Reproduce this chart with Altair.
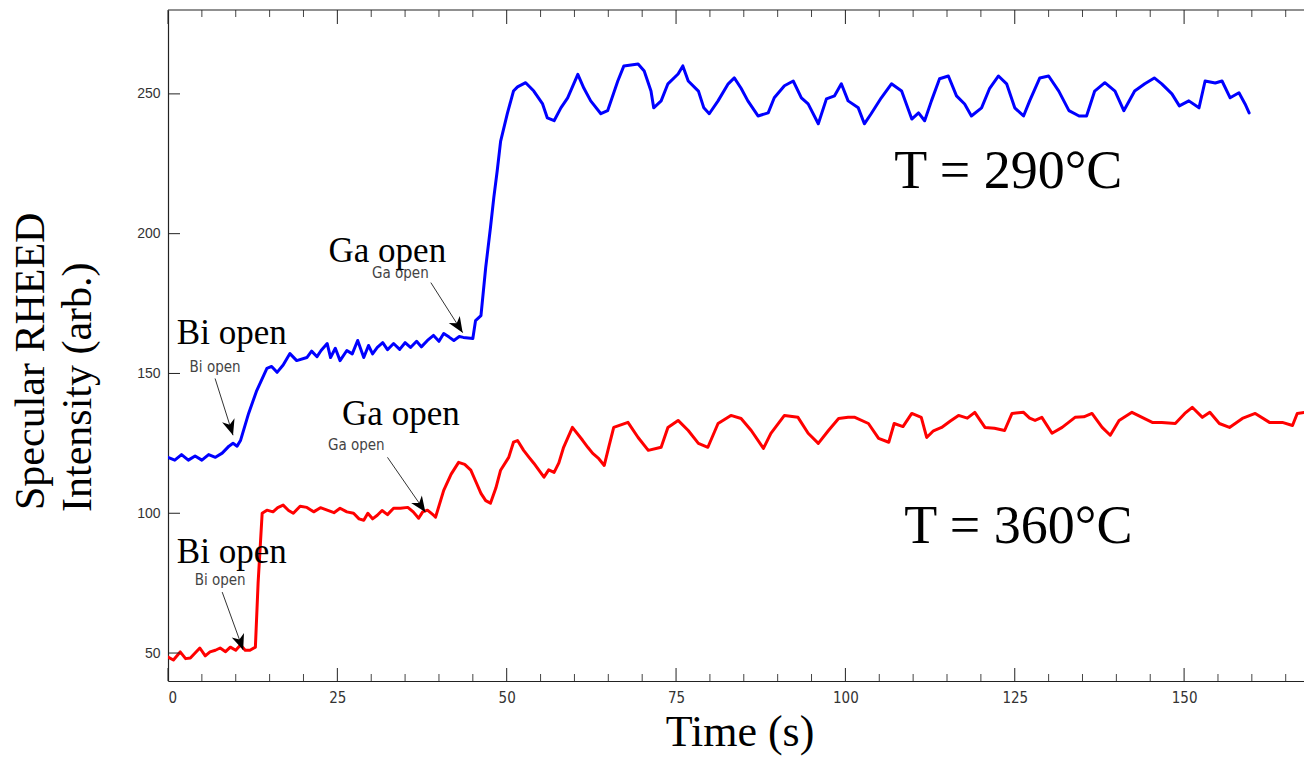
import math
import altair as alt
import pandas as pd

# ---------------- data ----------------
blue_t = [0, 1, 2, 3, 4, 5, 6, 7, 8, 9, 9.6, 10.2, 10.7, 11.9, 13.1, 14.6, 15.3, 16.1, 17, 18, 19,
          20.5, 21.2, 22, 22.6, 23.5, 24, 24.7, 25.4, 26.4, 27.2, 28, 28.9, 29.6, 30.2, 30.9, 31.7,
          32.4, 33.3, 34.2, 35, 35.8, 36.7, 37.4, 38.3, 39.2, 40, 40.7, 41.5, 42.2, 43, 43.6, 45,
          45.4, 46.2, 46.9, 47.6, 48.1, 48.6, 49.1, 50.1, 51, 51.6, 52.8, 54, 55.3, 56, 57, 58, 59,
          60.5, 61.4, 62.4, 63.9, 64.9, 66.4, 67.3, 69.4, 70.3, 71.3, 71.7, 72.8, 73.8, 75.3, 76,
          76.8, 78.3, 79.1, 79.9, 81.2, 82.7, 83.6, 84.6, 85.6, 87.1, 88.6, 89.5, 91, 92.3, 93.5,
          94.5, 96, 97.2, 98.4, 99.4, 100.4, 101.9, 102.8, 103.8, 105.3, 106.8, 108.3, 109.8, 110.8,
          111.7, 112.7, 113.9, 115.2, 116.4, 117.6, 118.6, 120.1, 121.3, 122.6, 123.8, 125, 126.3,
          127.2, 128.7, 130, 131.5, 133, 134.5, 135.6, 136.8, 138.3, 139.8, 141.1, 142.7, 144.2,
          145.6, 146.7, 148.2, 149.3, 150.7, 152.2, 153.1, 154.6, 155.6, 156.8, 158.1, 159, 159.6]
blue_v = [120, 119, 121, 119, 120.5, 119, 121, 120, 121.5, 124, 125, 124, 126, 135.7, 143.9, 151.8,
          152.5, 150.4, 153, 157.1, 154.6, 155.7, 158, 156, 158.2, 160.7, 155.7, 159, 154.6, 158.2,
          157, 161.8, 155.7, 160, 157, 159.3, 161, 158.5, 160.7, 158.6, 161, 159.3, 161.5, 159.5,
          161.8, 163.6, 161.5, 164.3, 163, 161.8, 163.2, 162.9, 162.5, 168.9, 170.7, 187.9, 202.1,
          213, 222.5, 233, 243, 251, 252.5, 254, 251, 246.4, 241.4, 240.4, 245, 248.6, 257, 252,
          247.5, 242.9, 244, 254.6, 260, 260.7, 258.2, 251, 245, 247.5, 253.6, 257.1, 260, 254.6,
          251, 245, 242.9, 247.5, 253.6, 255.7, 252, 247.5, 242.1, 243.2, 248.6, 252.9, 254.6,
          248.6, 246.4, 239.3, 248.2, 249.3, 253.6, 247.5, 245, 239.3, 242.9, 248.6, 253.6, 251,
          241, 243.2, 240.4, 247.5, 255.4, 256.4, 249.3, 246.4, 242.1, 245, 252, 256.4, 253.6, 245,
          242.1, 247.5, 255.7, 256.4, 251, 244, 242.1, 242.1, 251, 254, 251, 244, 251, 253.6, 255.7,
          253.6, 250, 245.7, 247.5, 245, 254.6, 253.9, 254.6, 248.6, 250.4, 246.4, 243.2]

red_t = [0, 0.8, 1.8, 2.6, 3.3, 4, 4.7, 5.5, 6.2, 7, 7.7, 8.5, 9.2, 10, 10.7, 11.4, 12.1, 12.9, 13.3,
         13.9, 14.6, 15.5, 16.2, 17, 17.8, 18.5, 19.5, 20.5, 21.5, 22.5, 23.5, 24.5, 25.4, 26.4,
         27.4, 28.2, 28.9, 29.5, 30.2, 30.9, 31.6, 32.4, 33.3, 34.3, 35.4, 36.2, 37, 37.6, 38.3,
         39.2, 39.5, 40.7, 41.8, 42.9, 43.8, 44.7, 45.5, 46.2, 46.9, 47.6, 48.4, 49.1, 50.3, 51,
         51.6, 52.5, 53.3, 54, 55.5, 56.2, 57, 57.7, 58.4, 59.7, 61.2, 62, 62.7, 63.6, 64.4, 65.1,
         65.8, 67.9, 69.4, 70.9, 72.8, 73.8, 75.3, 76.8, 78.3, 79.7, 81.2, 83.1, 84.6, 86.1, 87.9,
         89, 91, 93, 94.5, 96, 97.5, 99, 100.4, 101.4, 103.4, 104.9, 106.4, 107.2, 108.5, 109.8,
         111.2, 112, 113, 114.2, 115.5, 116.7, 118, 119.1, 120.6, 122, 123.5, 124.6, 126.3, 127.2,
         128, 129, 130.5, 132, 133.9, 135.2, 136.4, 137.9, 139.1, 140.4, 142.3, 143.8, 145.3,
         146.7, 148.7, 150.1, 151.2, 152.7, 153.8, 155.2, 156.7, 158.6, 160.5, 162.6, 164.5, 166,
         166.7, 167.9]
red_v = [48.6, 47.5, 50.4, 48, 48.2, 50, 51.8, 49, 50.4, 51, 51.8, 50.5, 52.1, 51, 52.9, 51, 51,
         52.1, 75, 100, 101.1, 100.5, 102, 102.9, 101, 100, 102.5, 102.1, 100.5, 102, 101.1, 100.2,
         101.8, 100.5, 100, 98, 97.5, 100, 98, 99.3, 101, 99.5, 101.8, 101.8, 102.1, 100.5, 98.2,
         100.5, 101.1, 99.3, 98.6, 108.2, 114, 118.2, 117.5, 115.4, 111, 107.1, 104.5, 103.6, 109,
         115.4, 120, 125.4, 126, 122.5, 120, 117.9, 112.9, 115.5, 114.6, 118, 123.6, 130.7, 126.1,
         123.5, 121.4, 119.5, 117.1, 124, 130.7, 132.5, 127.1, 122.5, 123.6, 130.7, 133.2, 129.6,
         125, 123.6, 132.1, 135, 133.9, 129.6, 123.2, 128.6, 135, 134.3, 128.6, 125, 129.6, 133.9,
         134.3, 134.3, 132.1, 126.8, 125.4, 132.1, 131, 135.7, 134.3, 127.1, 129.5, 130.7, 133, 135,
         134, 136.1, 130.7, 130.4, 129.6, 135.7, 136.1, 134, 133.2, 134.3, 128.6, 130.7, 134.3,
         134.5, 135.7, 130.7, 127.9, 133.2, 136.1, 134.3, 132.5, 132.5, 132.1, 135.7, 137.9, 134.3,
         136.1, 132.1, 130.7, 133.9, 135.7, 132.5, 132.5, 131.4, 135.7, 136.1]

series_names = ["T = 290°C", "T = 360°C"]
series_colors = ["#0000ff", "#ff0000"]

x_major = [0, 25, 50, 75, 100, 125, 150]
x_minor = [v for v in range(5, 170, 5) if v % 25 != 0]
y_major = [50, 100, 150, 200, 250]

# annotations (data coordinates)
big_text = ["Bi open", "Ga open", "Ga open", "Bi open"]
big_x = [1.3, 23.7, 25.7, 1.3]
big_y = [160.5, 189.8, 131.6, 82.3]

temp_text = ["T = 290°C", "T = 360°C"]
temp_x = [107.2, 108.7]
temp_y = [216.4, 89.3]

small_text = ["Bi open", "Ga open", "Bi open", "Ga open"]
small_x = [6.95, 34.3, 7.7, 27.8]
small_y = [152.3, 186.0, 76.0, 124.3]

arrow_x1 = [6.95, 38.8, 8.0, 32.4]
arrow_y1 = [148.2, 182.5, 71.8, 120.0]
arrow_x2 = [9.6, 43.5, 11.1, 38.0]
arrow_y2 = [127.9, 164.6, 51.1, 100.4]

# ---------------- layout ----------------
W, H = 1136, 671
X_DOM = [0, 167.7]
Y_DOM = [40, 280]
SX = W / (X_DOM[1] - X_DOM[0])
SY = H / (Y_DOM[1] - Y_DOM[0])

SERIF = "Liberation Serif, Times New Roman, serif"
NARROW = "Liberation Sans Narrow, DejaVu Sans Condensed, Arial Narrow, sans-serif"
SANS = "Liberation Sans, Arial, sans-serif"

xs = alt.Scale(domain=X_DOM, nice=False, zero=False)
ys = alt.Scale(domain=Y_DOM, nice=False, zero=False)

X_AX = alt.Axis(values=x_major, ticks=False, tickSize=0, grid=False, title=None,
                labelFont=NARROW, labelFontSize=15, labelColor="#333333", labelPadding=9,
                domainColor="#222222", domainWidth=1.2, format="d")
Y_AX = alt.Axis(values=y_major, ticks=False, tickSize=0, grid=False, title=None,
                labelFont=SANS, labelFontSize=14, labelColor="#333333", labelPadding=8,
                domainColor="#222222", domainWidth=1.2, format="d")


def X(f):
    return alt.X(f"{f}:Q", scale=xs, axis=X_AX)


def Y(f):
    return alt.Y(f"{f}:Q", scale=ys, axis=Y_AX)


df = pd.DataFrame({
    "t": blue_t + red_t,
    "v": blue_v + red_v,
    "series": [series_names[0]] * len(blue_t) + [series_names[1]] * len(red_t),
})

lines = alt.Chart(df).mark_line(strokeWidth=3, clip=True, strokeJoin="round", strokeCap="round").encode(
    x=X("t"), y=Y("v"),
    color=alt.Color("series:N", scale=alt.Scale(domain=series_names, range=series_colors), legend=None),
)

# inward ticks
maj = pd.DataFrame({"t": x_major})
mino = pd.DataFrame({"t": x_minor})
ticks_bot_major = alt.Chart(maj).mark_rule(color="#222222", strokeWidth=1).encode(
    x=X("t"), y=alt.value(H), y2=alt.value(H - 13))
ticks_bot_minor = alt.Chart(mino).mark_rule(color="#444444", strokeWidth=1).encode(
    x=X("t"), y=alt.value(H), y2=alt.value(H - 7))
ticks_top_major = alt.Chart(maj).mark_rule(color="#222222", strokeWidth=1).encode(
    x=X("t"), y=alt.value(0), y2=alt.value(14))
ticks_top_minor = alt.Chart(mino).mark_rule(color="#444444", strokeWidth=1).encode(
    x=X("t"), y=alt.value(0), y2=alt.value(7))
ticks_y = alt.Chart(pd.DataFrame({"v": y_major})).mark_rule(color="#222222", strokeWidth=1).encode(
    y=Y("v"), x=alt.value(0), x2=alt.value(12))
top_border = alt.Chart(pd.DataFrame({"a": [0]})).mark_rule(color="#222222", strokeWidth=1.2).encode(
    x=alt.value(0), x2=alt.value(W), y=alt.value(0))

# arrows
arr = pd.DataFrame({"x1": arrow_x1, "y1": arrow_y1, "x2": arrow_x2, "y2": arrow_y2})
arr["ang"] = [
    (math.degrees(math.atan2((b - a) * SX, (d - c) * SY)) + 360) % 360
    for a, b, c, d in zip(arrow_x1, arrow_x2, arrow_y1, arrow_y2)
]
arrow_lines = alt.Chart(arr).mark_rule(color="#333333", strokeWidth=1).encode(
    x=X("x1"), y=Y("y1"), x2=alt.X2("x2:Q"), y2=alt.Y2("y2:Q"))
arrow_heads = alt.Chart(arr).mark_point(
    shape="M0,0L1,2.4L0,1.7L-1,2.4Z", filled=True, color="#000000", size=170, opacity=1
).encode(x=X("x2"), y=Y("y2"), angle=alt.Angle("ang:Q", scale=None))

# text annotations
small = alt.Chart(pd.DataFrame({"x": small_x, "y": small_y, "s": small_text})).mark_text(
    font=NARROW, fontSize=15, color="#444444", align="center", baseline="middle"
).encode(x=X("x"), y=Y("y"), text="s:N")
big = alt.Chart(pd.DataFrame({"x": big_x, "y": big_y, "s": big_text})).mark_text(
    font=SERIF, fontSize=35, color="#000000", align="left", baseline="alphabetic"
).encode(x=X("x"), y=Y("y"), text="s:N")
temps = alt.Chart(pd.DataFrame({"x": temp_x, "y": temp_y, "s": temp_text})).mark_text(
    font=SERIF, fontSize=54, color="#000000", align="left", baseline="alphabetic"
).encode(x=X("x"), y=Y("y"), text="s:N")

# axis titles
title_df = pd.DataFrame({"a": [0]})
x_title = alt.Chart(title_df).mark_text(
    text="Time (s)", font=SERIF, fontSize=44, color="#000000", align="center", baseline="alphabetic"
).encode(x=alt.value(572), y=alt.value(H + 65))
y_title1 = alt.Chart(title_df).mark_text(
    text="Specular RHEED", font=SERIF, fontSize=42, color="#000000", angle=270,
    align="left", baseline="alphabetic"
).encode(x=alt.value(-124), y=alt.value(500))
y_title2 = alt.Chart(title_df).mark_text(
    text="Intensity (arb.)", font=SERIF, fontSize=42, color="#000000", angle=270,
    align="left", baseline="alphabetic"
).encode(x=alt.value(-77), y=alt.value(502))

chart = alt.layer(
    lines, ticks_bot_major, ticks_bot_minor, ticks_top_major, ticks_top_minor, ticks_y,
    top_border, arrow_lines, arrow_heads, small, big, temps, x_title, y_title1, y_title2,
).properties(
    width=W, height=H,
    autosize=alt.AutoSizeParams(type="none"),
    padding={"left": 168, "top": 10, "right": 0, "bottom": 76},
    background="#ffffff",
).configure_view(strokeWidth=0)

chart.save("out.html", embed_options={"renderer": "svg", "actions": False})
